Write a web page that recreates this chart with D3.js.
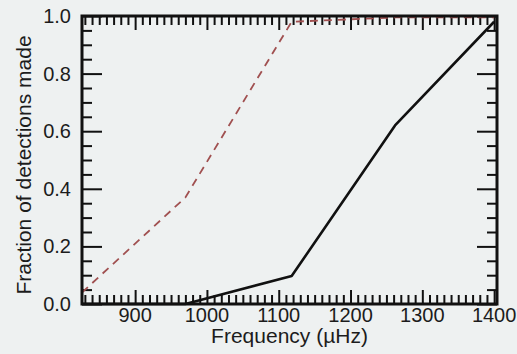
<!DOCTYPE html>
<html>
<head>
<meta charset="utf-8">
<script src="https://cdn.jsdelivr.net/npm/d3@7"></script>
<style>
  body { margin: 0; background: #eef1f1; }
  svg { display: block; }
  text { font-family: "Liberation Sans", Arial, sans-serif; fill: #1c1c1c; }
</style>
</head>
<body>
<div class="grafico"></div>
<script>
// frequencies (µHz) where the curves were sampled
var frecuencia = [826, 970, 1118, 1262, 1400];
// fraction of detections, solid black curve
var fraccionSolida = [0, 0, 0.097, 0.62, 0.98];
// fraction of detections, dashed red curve
var fraccionRayada = [0.04, 0.37, 0.98, 0.995, 0.995];

var xTicks = [900, 1000, 1100, 1200, 1300, 1400];
var yTicks = [0.0, 0.2, 0.4, 0.6, 0.8, 1.0];

var ancho = 517, alto = 354;
var izq = 82, der = 497, arriba = 16, abajo = 304;

var svg = d3.select('.grafico')
  .append('svg')
  .attr('width', ancho)
  .attr('height', alto);

const xScale = d3.scaleLinear()
  .domain([826, 1404])
  .range([izq, der]);

const yScale = d3.scaleLinear()
  .domain([0, 1])
  .range([abajo, arriba]);

var xMinor = d3.range(830, 1404, 10).filter(function (v) { return v % 100 !== 0; });
var yMinor = d3.range(0.05, 1, 0.05).filter(function (v) { return Math.abs(v * 5 - Math.round(v * 5)) > 1e-6; });

function marcas(eje, valores, largo) {
  return eje.tickValues(valores).tickSize(largo).tickFormat('');
}

var ejes = [
  { e: marcas(d3.axisBottom(xScale), xMinor, -9), t: 'translate(0,' + abajo + ')' },
  { e: marcas(d3.axisBottom(xScale), xTicks, -14), t: 'translate(0,' + abajo + ')' },
  { e: marcas(d3.axisTop(xScale), xMinor, -9), t: 'translate(0,' + arriba + ')' },
  { e: marcas(d3.axisTop(xScale), xTicks, -14), t: 'translate(0,' + arriba + ')' },
  { e: marcas(d3.axisLeft(yScale), yMinor, -10), t: 'translate(' + izq + ',0)' },
  { e: marcas(d3.axisLeft(yScale), yTicks, -20), t: 'translate(' + izq + ',0)' },
  { e: marcas(d3.axisRight(yScale), yMinor, -10), t: 'translate(' + der + ',0)' },
  { e: marcas(d3.axisRight(yScale), yTicks, -20), t: 'translate(' + der + ',0)' }
];

ejes.forEach(function (a) {
  var g = svg.append('g').attr('transform', a.t).call(a.e);
  g.select('.domain').remove();
  g.selectAll('line').attr('stroke', '#111').attr('stroke-width', 2);
});

// curves
var linea = d3.line()
  .x(function (d) { return xScale(d[0]); })
  .y(function (d) { return yScale(d[1]); });

svg.append('path')
  .datum(frecuencia.map(function (f, i) { return [f, fraccionRayada[i]]; }))
  .attr('d', linea)
  .attr('fill', 'none')
  .attr('stroke', '#a05050')
  .attr('stroke-width', 1.8)
  .attr('stroke-dasharray', '8,6');

svg.append('path')
  .datum(frecuencia.map(function (f, i) { return [f, fraccionSolida[i]]; }))
  .attr('d', linea)
  .attr('fill', 'none')
  .attr('stroke', '#111')
  .attr('stroke-width', 2.6)
  .attr('stroke-linejoin', 'round');

// frame
svg.append('rect')
  .attr('x', izq)
  .attr('y', arriba)
  .attr('width', der - izq)
  .attr('height', abajo - arriba)
  .attr('fill', 'none')
  .attr('stroke', '#111')
  .attr('stroke-width', 3);

// tick labels
svg.selectAll('.xlab')
  .data(xTicks)
  .enter()
  .append('text')
  .attr('x', function (d) { return xScale(d); })
  .attr('y', 322)
  .attr('text-anchor', 'middle')
  .attr('font-size', 20)
  .text(function (d) { return d; });

svg.selectAll('.ylab')
  .data(yTicks)
  .enter()
  .append('text')
  .attr('x', 71)
  .attr('y', function (d) { return yScale(d) + 7; })
  .attr('text-anchor', 'end')
  .attr('font-size', 20)
  .text(function (d) { return d.toFixed(1); });

svg.append('text')
  .attr('x', (izq + der) / 2)
  .attr('y', 343)
  .attr('text-anchor', 'middle')
  .attr('font-size', 21)
  .text('Frequency (\u00B5Hz)');

svg.append('text')
  .attr('transform', 'translate(31,' + ((arriba + abajo) / 2 + 5) + ') rotate(-90)')
  .attr('text-anchor', 'middle')
  .attr('font-size', 21)
  .text('Fraction of detections made');
</script>
</body>
</html>
